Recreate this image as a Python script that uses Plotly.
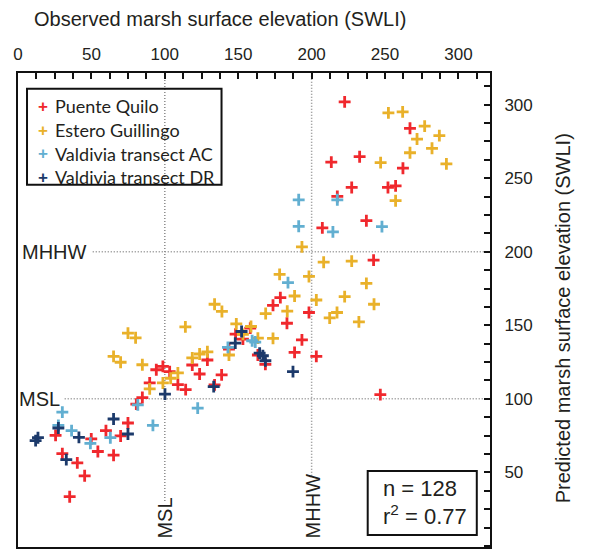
import plotly.graph_objects as go

# ---------------- data (observed SWLI, predicted SWLI) ----------------
pq_obs = [94.2, 98.7, 103.3, 89.7, 84.7, 80.6, 74.9, 59.9, 25.6, 49.9, 69.9, 54.4, 65.1, 30.2, 40.4,
          45.4, 35.2, 129.0, 118.7, 123.7, 138.7, 108.9, 114.2, 133.9, 217.5, 207.3, 178.7, 173.7,
          198.2, 183.2, 158.2, 148.2, 153.2, 193.4, 143.7, 188.4, 163.4, 168.5, 203.2, 222.5, 267.0,
          213.4, 232.7, 262.2, 227.3, 252.0, 257.2, 237.3, 242.2, 246.8]
pq_pred = [119.8, 122.1, 118.5, 110.8, 100.9, 96.4, 83.6, 78.4, 75.2, 72.8, 74.8, 64.2, 61.7, 62.8, 56.5,
           47.7, 33.5, 126.4, 123.0, 116.9, 116.3, 109.7, 106.3, 109.5, 237.6, 216.2, 168.8, 163.6,
           158.7, 151.4, 148.1, 144.0, 140.6, 140.1, 133.9, 131.6, 129.8, 123.5, 128.9, 301.9, 283.9,
           260.9, 264.6, 256.8, 243.7, 243.7, 244.8, 221.1, 194.3, 102.9]

eg_obs = [69.9, 84.7, 108.9, 89.7, 98.7, 104.0, 133.9, 138.9, 114.0, 74.9, 80.1, 65.1, 118.7, 123.7,
          129.0, 193.4, 208.2, 178.2, 198.2, 188.4, 203.2, 222.5, 168.7, 183.4, 217.3, 212.3, 148.7,
          158.7, 153.2, 163.4, 173.7, 143.7, 252.3, 262.0, 277.0, 271.8, 287.0, 282.0, 267.0, 291.8,
          247.0, 257.2, 227.3, 237.3, 242.5, 232.2]
eg_pred = [124.9, 123.2, 117.6, 106.8, 110.8, 114.0, 164.3, 159.4, 148.9, 144.7, 141.5, 128.9, 127.8,
           130.5, 132.0, 203.3, 192.9, 184.6, 183.2, 169.9, 167.2, 169.5, 158.0, 159.6, 158.7, 155.0,
           151.0, 149.2, 143.8, 141.3, 141.1, 129.8, 294.4, 295.1, 285.4, 276.6, 278.9, 270.3, 267.3,
           259.7, 260.6, 234.7, 193.6, 178.5, 164.3, 152.3]

ac_obs = [81.6, 30.2, 27.5, 91.9, 36.5, 49.3, 62.9, 122.4, 191.2, 217.5, 191.2, 214.5, 183.9, 161.6,
          143.0, 247.9, 159.5]
ac_pred = [95.9, 91.0, 82.0, 82.0, 78.4, 69.8, 73.6, 93.7, 235.3, 235.3, 217.3, 213.5, 179.0, 138.6,
           135.0, 217.1, 139.5]

dr_obs = [100.1, 65.1, 27.5, 13.6, 12.0, 41.5, 74.9, 32.9, 133.3, 152.3, 148.0, 164.6, 166.8, 168.5, 187.3]
dr_pred = [103.2, 86.3, 80.2, 73.6, 71.6, 73.8, 76.1, 58.7, 108.3, 145.8, 137.9, 131.1, 129.3, 125.9, 118.5]

series_names = ["Puente Quilo", "Estero Guillingo", "Valdivia transect AC", "Valdivia transect DR"]
series_colors = ["#F0282D", "#E9B12A", "#62AFD1", "#1C3A6B"]
series_x = [pq_obs, eg_obs, ac_obs, dr_obs]
series_y = [pq_pred, eg_pred, ac_pred, dr_pred]

msl_level = 100
mhhw_level = 200
n_samples = 128
r_squared = 0.77

x_ticks = [0, 50, 100, 150, 200, 250, 300]
y_ticks = [0, 50, 100, 150, 200, 250, 300]

# ---------------- figure ----------------
TXT = "#231F20"
AXFONT = "Liberation Sans, Arial, sans-serif"
LEGFONT = "Lato, Open Sans, sans-serif"

fig = go.Figure()
for name, col, xs, ys in zip(series_names, series_colors, series_x, series_y):
    fig.add_trace(go.Scatter(
        x=xs, y=ys, mode="markers", name=name, showlegend=False,
        marker=dict(symbol="cross-thin", size=8.5, color=col,
                    line=dict(color=col, width=2.8)),
    ))

dot = dict(color="#8A8A8A", width=1.5, dash="1px,2px")
XMAX, YMIN, YMAX = 321.5, -0.7, 321.5
shapes = [
    dict(type="line", xref="x", yref="y", x0=31.8, x1=XMAX, y0=msl_level, y1=msl_level, line=dot, layer="below"),
    dict(type="line", xref="x", yref="y", x0=50.9, x1=XMAX, y0=mhhw_level, y1=mhhw_level, line=dot, layer="below"),
    dict(type="line", xref="x", yref="y", x0=msl_level, x1=msl_level, y0=30.6, y1=YMAX, line=dot, layer="below"),
    dict(type="line", xref="x", yref="y", x0=mhhw_level, x1=mhhw_level, y0=47.8, y1=YMAX, line=dot, layer="below"),
    # stats box
    dict(type="rect", xref="x", yref="y", x0=238.2, x1=312.5, y0=7.5, y1=50.9,
         line=dict(color="#111", width=2), fillcolor="white"),
    # legend box
    dict(type="rect", xref="paper", yref="paper", x0=0.0191, x1=0.4312, y0=0.7641, y1=0.9668,
         line=dict(color="#111", width=2), fillcolor="rgba(0,0,0,0)"),
]

ann = []
lab = dict(family=AXFONT, size=20, color=TXT)
ann.append(dict(text="MSL", x=30.3, y=msl_level, xref="x", yref="y", xanchor="right", yanchor="middle",
                showarrow=False, font=lab))
ann.append(dict(text="MHHW", x=48.2, y=mhhw_level, xref="x", yref="y", xanchor="right", yanchor="middle",
                showarrow=False, font=lab))
ann.append(dict(text="MSL", x=msl_level + 0.3, y=3.5, xref="x", yref="y", xanchor="center", yanchor="bottom",
                textangle=-90, showarrow=False, font=lab))
ann.append(dict(text="MHHW", x=mhhw_level + 1, y=3.5, xref="x", yref="y", xanchor="center", yanchor="bottom",
                textangle=-90, showarrow=False, font=lab))
# stats text
stat = dict(family=AXFONT, size=22, color=TXT)
ann.append(dict(text=f"n = {n_samples}", x=247.3, y=39.2, xref="x", yref="y", xanchor="left",
                yanchor="middle", showarrow=False, font=stat))
ann.append(dict(text=f"r<sup>2</sup> = {r_squared:.2f}", x=247.3, y=21.1, xref="x", yref="y", xanchor="left",
                yanchor="middle", showarrow=False, font=stat))
# axis titles
ann.append(dict(text="Observed marsh surface elevation (SWLI)", x=0.4276, y=1.1147, xref="paper", yref="paper",
                xanchor="center", yanchor="middle", showarrow=False, font=lab))
ann.append(dict(text="Predicted marsh surface elevation (SWLI)", x=1.1548, y=0.4825, xref="paper", yref="paper",
                xanchor="center", yanchor="middle", textangle=-90, showarrow=False, font=lab))
# legend entries
leg_y = [0.9294, 0.8788, 0.8295, 0.7803]
for name, col, ly in zip(series_names, series_colors, leg_y):
    ann.append(dict(text="<b>+</b>", x=0.0530, y=ly, xref="paper", yref="paper", xanchor="center",
                    yanchor="middle", showarrow=False, font=dict(family=AXFONT, size=17, color=col)))
    ann.append(dict(text=name, x=0.0735, y=ly, xref="paper", yref="paper", xanchor="left",
                    yanchor="middle", showarrow=False, font=dict(family=LEGFONT, size=18, color=TXT)))

fig.update_layout(
    width=590, height=551,
    margin=dict(l=18, r=100, t=73, b=4),
    paper_bgcolor="white", plot_bgcolor="white",
    showlegend=False,
    shapes=shapes, annotations=ann,
    xaxis=dict(side="top", range=[0, XMAX], tickmode="array", tickvals=x_ticks,
               ticks="inside", ticklen=6, tickwidth=1.5, tickcolor="#111",
               minor=dict(tick0=0, dtick=12.5, ticks="inside", ticklen=6, tickwidth=1.5, tickcolor="#111"),
               showline=True, linecolor="#111", linewidth=2, mirror=True,
               showgrid=False, zeroline=False, automargin=False, ticklabelstandoff=4,
               tickfont=dict(family=AXFONT, size=17, color=TXT)),
    yaxis=dict(side="right", range=[YMIN, YMAX], tickmode="array", tickvals=y_ticks,
               ticks="inside", ticklen=6, tickwidth=1.5, tickcolor="#111",
               minor=dict(tick0=0, dtick=12.5, ticks="inside", ticklen=6, tickwidth=1.5, tickcolor="#111"),
               showline=True, linecolor="#111", linewidth=2, mirror=True,
               showgrid=False, zeroline=False, automargin=False, ticklabelstandoff=9,
               tickfont=dict(family=AXFONT, size=17, color=TXT)),
)

fig.write_html("out.html", config={"displayModeBar": False},
               post_script="document.body.style.margin='0';")
